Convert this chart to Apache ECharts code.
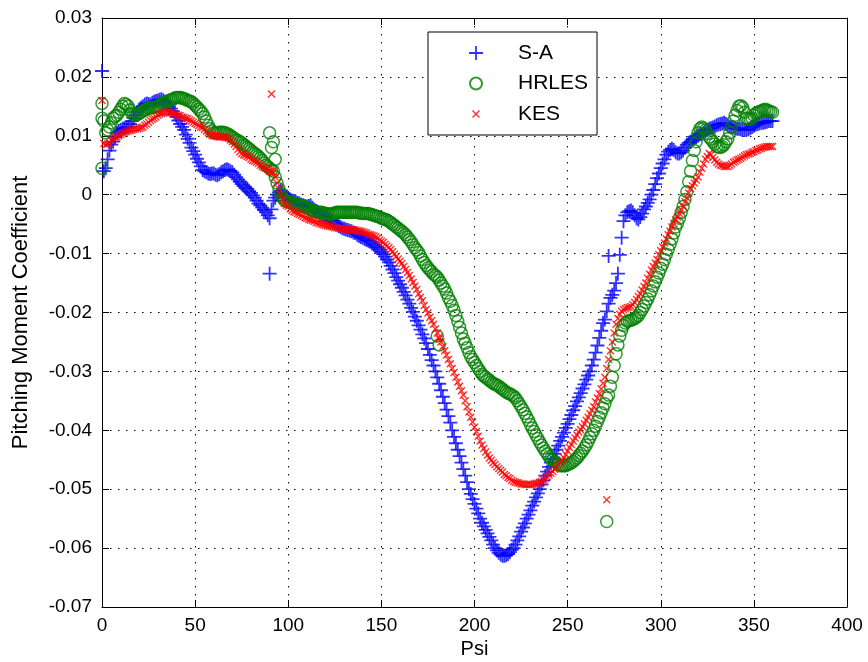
<!DOCTYPE html>
<html><head><meta charset="utf-8">
<script src="https://cdn.jsdelivr.net/npm/echarts@6/dist/echarts.min.js"></script>
<style>html,body{margin:0;padding:0;background:#fff}#c{width:868px;height:662px}</style>
</head><body><div id="c"></div>
<script>
// Psi sample positions (degrees), one per degree
const psi = [
0,1,2,3,4,5,6,7,8,9,10,11,12,13,14,15,16,17,18,19,20,21,22,23,24,25,26,27,28,29,
30,31,32,33,34,35,36,37,38,39,40,41,42,43,44,45,46,47,48,49,50,51,52,53,54,55,56,57,58,59,
60,61,62,63,64,65,66,67,68,69,70,71,72,73,74,75,76,77,78,79,80,81,82,83,84,85,86,87,88,89,
90,91,92,93,94,95,96,97,98,99,100,101,102,103,104,105,106,107,108,109,110,111,112,113,114,115,116,117,118,119,
120,121,122,123,124,125,126,127,128,129,130,131,132,133,134,135,136,137,138,139,140,141,142,143,144,145,146,147,148,149,
150,151,152,153,154,155,156,157,158,159,160,161,162,163,164,165,166,167,168,169,170,171,172,173,174,175,176,177,178,179,
180,181,182,183,184,185,186,187,188,189,190,191,192,193,194,195,196,197,198,199,200,201,202,203,204,205,206,207,208,209,
210,211,212,213,214,215,216,217,218,219,220,221,222,223,224,225,226,227,228,229,230,231,232,233,234,235,236,237,238,239,
240,241,242,243,244,245,246,247,248,249,250,251,252,253,254,255,256,257,258,259,260,261,262,263,264,265,266,267,268,269,
270,271,272,273,274,275,276,277,278,279,280,281,282,283,284,285,286,287,288,289,290,291,292,293,294,295,296,297,298,299,
300,301,302,303,304,305,306,307,308,309,310,311,312,313,314,315,316,317,318,319,320,321,322,323,324,325,326,327,328,329,
330,331,332,333,334,335,336,337,338,339,340,341,342,343,344,345,346,347,348,349,350,351,352,353,354,355,356,357,358,359,360];

const saValues = [
0.021,0.004,0.0045,0.006,0.0075,0.0085,0.009,0.0098,0.0105,0.0108,
0.011,0.0112,0.0113,0.0114,0.0115,0.012,0.0125,0.013,0.0135,0.014,
0.0145,0.0148,0.015,0.0153,0.0155,0.0154,0.0153,0.0156,0.0158,0.0159,
0.016,0.0161,0.0162,0.016,0.0158,0.0154,0.015,0.0146,0.0142,0.0137,
0.0132,0.0126,0.012,0.0115,0.011,0.0102,0.0095,0.0088,0.008,0.0074,
0.0068,0.0061,0.0055,0.0048,0.0042,0.004,0.0038,0.0036,0.0035,0.0036,
0.0036,0.0034,0.0033,0.0035,0.0038,0.004,0.0042,0.0043,0.0042,0.004,
0.0038,0.0034,0.003,0.0026,0.0022,0.0018,0.0015,0.0012,0.001,0.0006,
0.0003,-0.0001,-0.0005,-0.001,-0.0015,-0.0018,-0.0022,-0.0026,-0.003,-0.0035,
-0.004,-0.0025,-0.001,-0.0005,0.0,0.0004,0.0007,0.0003,0.0,-0.0003,
-0.0005,-0.0008,-0.001,-0.0011,-0.0012,-0.0014,-0.0015,-0.0017,-0.0018,-0.0019,
-0.002,-0.0019,-0.0018,-0.0022,-0.0025,-0.0028,-0.003,-0.0033,-0.0035,-0.0037,
-0.0038,-0.0039,-0.004,-0.0043,-0.0045,-0.0048,-0.005,-0.0053,-0.0055,-0.0057,
-0.0058,-0.0059,-0.006,-0.0061,-0.0062,-0.0064,-0.0065,-0.0068,-0.007,-0.0072,
-0.0073,-0.0075,-0.0077,-0.0078,-0.008,-0.0083,-0.0085,-0.0088,-0.009,-0.0093,
-0.0097,-0.0101,-0.0105,-0.011,-0.0115,-0.0121,-0.0127,-0.0133,-0.014,-0.0146,
-0.0152,-0.0158,-0.0165,-0.0171,-0.0178,-0.0185,-0.0192,-0.0199,-0.0207,-0.0214,
-0.0222,-0.0229,-0.0237,-0.0244,-0.0252,-0.0262,-0.0272,-0.0281,-0.029,-0.03,
-0.031,-0.0321,-0.0332,-0.0343,-0.0354,-0.0365,-0.0376,-0.0387,-0.04,-0.0411,
-0.0422,-0.0433,-0.0444,-0.0455,-0.0466,-0.0477,-0.0488,-0.05,-0.0508,-0.0517,
-0.0525,-0.0533,-0.0541,-0.055,-0.0557,-0.0563,-0.0569,-0.0575,-0.0581,-0.0587,
-0.0594,-0.06,-0.0604,-0.0608,-0.0611,-0.0613,-0.0613,-0.0612,-0.061,-0.0607,
-0.0603,-0.06,-0.0594,-0.0587,-0.058,-0.0572,-0.0565,-0.0558,-0.055,-0.0543,
-0.0536,-0.0528,-0.0521,-0.0514,-0.0507,-0.05,-0.0492,-0.0485,-0.0477,-0.047,
-0.0462,-0.0455,-0.0448,-0.044,-0.0433,-0.0426,-0.0418,-0.0411,-0.0404,-0.0396,
-0.0389,-0.0381,-0.0374,-0.0366,-0.0359,-0.0351,-0.0344,-0.0337,-0.0329,-0.0322,
-0.0314,-0.0307,-0.03,-0.029,-0.028,-0.0268,-0.0256,-0.0243,-0.0231,-0.0218,
-0.0212,-0.0198,-0.0185,-0.0175,-0.017,-0.0163,-0.015,-0.0134,-0.0102,-0.0073,
-0.0045,-0.0035,-0.003,-0.0028,-0.0027,-0.003,-0.0035,-0.004,-0.0042,-0.0038,
-0.0032,-0.0025,-0.002,-0.0014,-0.0008,0.0,0.0008,0.0018,0.0028,0.0036,
0.0045,0.0053,0.006,0.0068,0.0073,0.0076,0.0078,0.0076,0.0072,0.007,
0.007,0.0072,0.0075,0.008,0.0085,0.0088,0.009,0.0093,0.0095,0.0098,
0.01,0.0102,0.0103,0.0105,0.0108,0.011,0.0112,0.0113,0.0114,0.0116,
0.0118,0.0119,0.012,0.0121,0.0122,0.012,0.0118,0.0116,0.0115,0.0114,
0.0113,0.0112,0.0112,0.0111,0.011,0.011,0.011,0.0111,0.0113,0.0115,
0.0117,0.0119,0.012,0.0121,0.0122,0.0122,0.0123,0.0124,0.0125,0.0125,0.0125];

const hrlesValues = [
0.0155,0.0125,0.0105,0.011,0.0115,0.0122,0.013,0.0133,0.0135,0.014,
0.0145,0.015,0.0155,0.0153,0.015,0.0144,0.0138,0.0136,0.0135,0.0136,
0.0138,0.014,0.0142,0.0144,0.0145,0.0147,0.0148,0.0148,0.0148,0.0149,
0.015,0.0152,0.0155,0.0156,0.0157,0.0158,0.016,0.0161,0.0162,0.0164,
0.0165,0.0165,0.0165,0.0164,0.0163,0.0162,0.016,0.0159,0.0158,0.0155,
0.0152,0.0149,0.0145,0.0142,0.0138,0.0132,0.0125,0.0118,0.0112,0.0108,
0.0105,0.0105,0.0105,0.0106,0.0106,0.0106,0.0105,0.0104,0.0102,0.01,
0.0098,0.0096,0.0093,0.0092,0.009,0.0088,0.0085,0.0083,0.008,0.0078,
0.0075,0.0072,0.007,0.0068,0.0065,0.0062,0.0058,0.0054,0.005,0.0048,
0.0045,0.0042,0.004,0.003,0.002,0.001,0.0,-0.0005,-0.001,-0.0011,
-0.0012,-0.0013,-0.0015,-0.0015,-0.0015,-0.0016,-0.0018,-0.0019,-0.002,-0.0021,
-0.0022,-0.0023,-0.0025,-0.0027,-0.0028,-0.0029,-0.003,-0.003,-0.003,-0.0031,
-0.0032,-0.0032,-0.0033,-0.0033,-0.0032,-0.0031,-0.003,-0.003,-0.003,-0.003,
-0.003,-0.003,-0.003,-0.003,-0.003,-0.003,-0.003,-0.003,-0.0031,-0.0031,
-0.0032,-0.0032,-0.0032,-0.0032,-0.0033,-0.0034,-0.0035,-0.0036,-0.0037,-0.0038,
-0.004,-0.0041,-0.0042,-0.0043,-0.0045,-0.0047,-0.005,-0.0052,-0.0055,-0.0057,
-0.006,-0.0062,-0.0065,-0.0068,-0.0072,-0.0076,-0.008,-0.0085,-0.009,-0.0094,
-0.0098,-0.0104,-0.011,-0.0115,-0.012,-0.0124,-0.0128,-0.0131,-0.0135,-0.0137,
-0.014,-0.0145,-0.015,-0.0155,-0.016,-0.0167,-0.0175,-0.0181,-0.0188,-0.0196,
-0.0205,-0.0215,-0.0225,-0.0235,-0.0245,-0.0252,-0.026,-0.0268,-0.0275,-0.028,
-0.0285,-0.029,-0.0295,-0.03,-0.0305,-0.0308,-0.031,-0.0313,-0.0315,-0.0318,
-0.032,-0.0322,-0.0323,-0.0325,-0.0328,-0.033,-0.0333,-0.0335,-0.0337,-0.0338,
-0.034,-0.0342,-0.0345,-0.035,-0.0355,-0.036,-0.0365,-0.0371,-0.0377,-0.0383,
-0.039,-0.0396,-0.0402,-0.0408,-0.0414,-0.042,-0.0425,-0.043,-0.0435,-0.044,
-0.0445,-0.0448,-0.045,-0.0453,-0.0455,-0.0458,-0.046,-0.046,-0.046,-0.046,
-0.0458,-0.0457,-0.0455,-0.0453,-0.045,-0.0447,-0.0443,-0.0439,-0.0435,-0.043,
-0.0425,-0.0419,-0.0412,-0.0406,-0.04,-0.0393,-0.0385,-0.0378,-0.037,-0.0362,
-0.0355,-0.0345,-0.034,-0.0325,-0.031,-0.029,-0.027,-0.0255,-0.024,-0.023,
-0.0222,-0.0218,-0.0215,-0.0214,-0.0213,-0.0212,-0.021,-0.0208,-0.0205,-0.02,
-0.0195,-0.0189,-0.0183,-0.0177,-0.017,-0.0163,-0.0155,-0.0148,-0.014,-0.0133,
-0.0125,-0.0118,-0.011,-0.0101,-0.0093,-0.0084,-0.0075,-0.0065,-0.0055,-0.0048,
-0.004,-0.003,-0.002,-0.0008,0.0005,0.0022,0.004,0.0058,0.0075,0.009,
0.0105,0.0112,0.0115,0.0113,0.011,0.0104,0.0098,0.0094,0.009,0.0086,
0.0082,0.0081,0.008,0.0082,0.0085,0.009,0.0095,0.0105,0.0115,0.0125,
0.0135,0.0143,0.015,0.0151,0.0148,0.014,0.013,0.0128,0.0128,0.013,
0.0135,0.0138,0.014,0.0141,0.0142,0.0144,0.0145,0.0144,0.0142,0.0141,0.014];

const kesValues = [
0.016,0.0087,0.0085,0.0086,0.0088,0.0092,0.0095,0.0097,0.0098,0.01,
0.0102,0.0104,0.0105,0.0107,0.0108,0.0109,0.011,0.0111,0.0112,0.0112,
0.0113,0.0114,0.0115,0.0118,0.012,0.0123,0.0126,0.0128,0.013,0.0132,
0.0135,0.0137,0.0138,0.0139,0.014,0.0141,0.014,0.0139,0.0138,0.0137,
0.0136,0.0135,0.0134,0.0132,0.0131,0.013,0.0129,0.0127,0.0125,0.0123,
0.0121,0.0119,0.0117,0.0115,0.0114,0.0111,0.0108,0.0105,0.0103,0.0101,
0.01,0.01,0.0099,0.0098,0.0098,0.0098,0.0098,0.0097,0.0096,0.0093,
0.009,0.0086,0.0082,0.0077,0.0073,0.007,0.0068,0.0067,0.0065,0.0063,
0.006,0.0058,0.0057,0.0055,0.0053,0.005,0.0048,0.0046,0.0045,0.0043,
0.004,0.0039,0.0038,0.003,0.002,0.001,0.0,-0.0008,-0.0015,-0.0018,
-0.002,-0.0024,-0.0027,-0.0029,-0.003,-0.0032,-0.0033,-0.0035,-0.0037,-0.0039,
-0.004,-0.0042,-0.0043,-0.0044,-0.0045,-0.0047,-0.0048,-0.0049,-0.005,-0.0051,
-0.0052,-0.0053,-0.0053,-0.0054,-0.0055,-0.0056,-0.0056,-0.0057,-0.0057,-0.0058,
-0.0058,-0.0059,-0.0059,-0.006,-0.006,-0.006,-0.006,-0.0061,-0.0061,-0.0062,
-0.0063,-0.0064,-0.0065,-0.0067,-0.0068,-0.0069,-0.007,-0.0072,-0.0074,-0.0077,
-0.0079,-0.0081,-0.0084,-0.0087,-0.009,-0.0093,-0.0097,-0.0101,-0.0105,-0.0109,
-0.0113,-0.0117,-0.0122,-0.0127,-0.0132,-0.0137,-0.0143,-0.0149,-0.0155,-0.0161,
-0.0168,-0.0174,-0.018,-0.0188,-0.0195,-0.0201,-0.0208,-0.0214,-0.022,-0.0228,
-0.0235,-0.0242,-0.025,-0.0258,-0.0265,-0.0272,-0.028,-0.0287,-0.0295,-0.0302,
-0.031,-0.0318,-0.0325,-0.0333,-0.034,-0.035,-0.036,-0.0369,-0.0378,-0.0386,
-0.0395,-0.0402,-0.041,-0.0418,-0.0425,-0.0431,-0.0437,-0.0442,-0.0447,-0.0451,
-0.0455,-0.0458,-0.0462,-0.0465,-0.0468,-0.0471,-0.0475,-0.0477,-0.048,-0.0482,
-0.0485,-0.0487,-0.0488,-0.0489,-0.049,-0.0491,-0.0491,-0.0492,-0.0492,-0.0492,
-0.0492,-0.0492,-0.0491,-0.049,-0.049,-0.0488,-0.0487,-0.0484,-0.0482,-0.0479,
-0.0476,-0.0473,-0.047,-0.0466,-0.0462,-0.0458,-0.0455,-0.0451,-0.0447,-0.0441,
-0.0435,-0.0429,-0.0424,-0.0418,-0.0413,-0.0408,-0.0403,-0.0399,-0.0394,-0.0389,
-0.0383,-0.0378,-0.0372,-0.0366,-0.036,-0.0352,-0.0345,-0.0338,-0.033,-0.032,
-0.031,-0.0295,-0.028,-0.0265,-0.025,-0.0235,-0.022,-0.021,-0.0203,-0.0198,
-0.0195,-0.0193,-0.0192,-0.0191,-0.019,-0.0187,-0.0183,-0.0178,-0.0173,-0.0168,
-0.0162,-0.0156,-0.015,-0.0142,-0.0135,-0.0128,-0.0122,-0.0116,-0.011,-0.0102,
-0.0095,-0.0089,-0.0082,-0.0075,-0.0068,-0.0062,-0.0055,-0.0049,-0.0043,-0.0038,
-0.0032,-0.0026,-0.002,-0.0012,-0.0005,0.0003,0.001,0.0015,0.002,0.0025,
0.003,0.0038,0.0045,0.0052,0.006,0.0065,0.007,0.0068,0.0063,0.0059,
0.0055,0.0052,0.005,0.0049,0.0048,0.0048,0.0048,0.005,0.0052,0.0055,
0.0057,0.0059,0.006,0.0062,0.0064,0.0066,0.0068,0.0069,0.007,0.0072,
0.0073,0.0075,0.0076,0.0078,0.0079,0.008,0.0081,0.0082,0.0082,0.0082,0.0082];

// isolated extra samples (psi, value)
const saExtraPsi = [90, 272];
const saExtraVal = [-0.0134, -0.0104];
const hrlesExtraPsi = [0, 0, 90, 91, 92, 93, 180, 181, 271];
const hrlesExtraVal = [0.0045, 0.013, 0.0105, 0.008, 0.009, 0.006, -0.024, -0.0255, -0.0555];
const kesExtraPsi = [91, 181, 271];
const kesExtraVal = [0.0171, -0.0245, -0.0518];

const xTicks = {min: 0, max: 400, step: 50};
const yTicks = {min: -0.07, max: 0.03, step: 0.01};

function pts(xs, ys, ex, ey) {
  const d = xs.map((x, i) => [x, ys[i]]);
  ex.forEach((x, i) => d.push([x, ey[i]]));
  return d;
}

const PLUS = 'path://M6.1,0H7.9V6.1H14V7.9H7.9V14H6.1V7.9H0V6.1H6.1Z';
const CIRC = 'path://M0,0L0,0M14,14L14,14M13,7A6,6,0,1,1,1,7A6,6,0,1,1,13,7Z';
const CROSS = 'path://M0,0L0,0M14,14L14,14M3,4L4,3L7,6L10,3L11,4L8,7L11,10L10,11L7,8L4,11L3,10L6,7Z';

const FONT = 'Liberation Sans, Arial, sans-serif';
const black = '#000';
const chart = echarts.init(document.getElementById('c'), null, {renderer: 'canvas'});
const axisBase = {
  axisLine: {show: true, onZero: false, lineStyle: {color: black, width: 1}},
  axisTick: {show: true, inside: true, length: 7, lineStyle: {color: black}},
};
const gridDots = {show: true, lineStyle: {color: black, width: 1, type: [1.5, 6.5]}};
chart.setOption({
  animation: false,
  backgroundColor: '#fff',
  grid: {left: 102, right: 21, top: 18, bottom: 55, containLabel: false, outerBoundsMode: 'none'},
  legend: {
    left: 428, top: 32, orient: 'vertical',
    backgroundColor: '#fff', borderColor: black, borderWidth: 1, borderRadius: 0,
    padding: [10.5, 9, 10.5, 40], itemWidth: 14, itemHeight: 14, itemGap: 9.5,
    textStyle: {fontFamily: FONT, fontSize: 21, lineHeight: 21, color: black, padding: [0, 0, 0, 30]},
    data: ['S-A', 'HRLES', 'KES']
  },
  xAxis: [
    Object.assign({type: 'value', min: xTicks.min, max: xTicks.max, interval: xTicks.step, position: 'bottom',
      name: 'Psi', nameLocation: 'middle', nameGap: 31,
      nameTextStyle: {fontFamily: FONT, fontSize: 20, color: black},
      axisLabel: {color: black, fontFamily: FONT, fontSize: 19, margin: 9},
      splitLine: gridDots}, axisBase),
    Object.assign({type: 'value', min: xTicks.min, max: xTicks.max, interval: xTicks.step, position: 'top',
      axisLabel: {show: false}, splitLine: {show: false}}, axisBase)
  ],
  yAxis: [
    Object.assign({type: 'value', min: yTicks.min, max: yTicks.max, interval: yTicks.step, position: 'left',
      name: 'Pitching Moment Coefficient', nameLocation: 'middle', nameGap: 70,
      nameTextStyle: {fontFamily: FONT, fontSize: 22, color: black},
      axisLabel: {color: black, fontFamily: FONT, fontSize: 19, margin: 10,
        formatter: v => (Math.abs(v) < 1e-9 ? '0' : String(parseFloat(v.toFixed(2))))},
      splitLine: gridDots}, axisBase),
    Object.assign({type: 'value', min: yTicks.min, max: yTicks.max, interval: yTicks.step, position: 'right',
      axisLabel: {show: false}, splitLine: {show: false}}, axisBase)
  ],
  series: [
    {name: 'S-A', type: 'scatter', symbol: PLUS, symbolSize: 14,
      itemStyle: {color: '#0000ff'}, data: pts(psi, saValues, saExtraPsi, saExtraVal)},
    {name: 'HRLES', type: 'scatter', symbol: CIRC, symbolSize: 14,
      itemStyle: {color: 'rgba(0,0,0,0)', borderColor: '#008000', borderWidth: 1.5}, data: pts(psi, hrlesValues, hrlesExtraPsi, hrlesExtraVal)},
    {name: 'KES', type: 'scatter', symbol: CROSS, symbolSize: 14,
      itemStyle: {color: '#ff0000'}, data: pts(psi, kesValues, kesExtraPsi, kesExtraVal)}
  ]
});
</script></body></html>
